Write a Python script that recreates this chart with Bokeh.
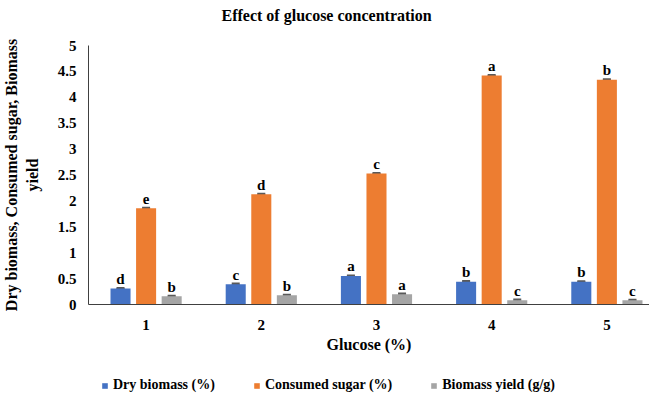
from bokeh.plotting import figure
from bokeh.layouts import column
from bokeh.models import (ColumnDataSource, Whisker, TeeHead, Legend, LegendItem,
                          FixedTicker, Range1d, Title)
from bokeh.transform import dodge
from bokeh.core.properties import value
from bokeh.embed import file_html
from bokeh.resources import INLINE

# ---- data ----
glucose = [1, 2, 3, 4, 5]
dry_biomass = [0.31, 0.39, 0.55, 0.44, 0.44]
dry_biomass_err = [0.01, 0.015, 0.01, 0.015, 0.01]
consumed_sugar = [1.86, 2.13, 2.53, 4.42, 4.34]
consumed_sugar_err = [0.01, 0.01, 0.01, 0.01, 0.01]
biomass_yield = [0.16, 0.18, 0.20, 0.08, 0.08]
biomass_yield_err = [0.01, 0.01, 0.01, 0.015, 0.01]
dry_letters = ["d", "c", "a", "b", "b"]
sugar_letters = ["e", "d", "c", "a", "b"]
yield_letters = ["b", "b", "a", "c", "c"]
series_names = ["Dry biomass (%)", "Consumed sugar (%)", "Biomass yield (g/g)"]
y_ticks = [0, 0.5, 1, 1.5, 2, 2.5, 3, 3.5, 4, 4.5, 5]
y_tick_labels = ["0", "0.5", "1", "1.5", "2", "2.5", "3", "3.5", "4", "4.5", "5"]
x_tick_labels = ["1", "2", "3", "4", "5"]
chart_title = "Effect of glucose concentration"

colors = ["#4472C4", "#ED7D31", "#A5A5A5"]
offsets = [-0.222, 0.0, 0.222]
FONT = "Liberation Serif"

p = figure(width=649, height=362, x_range=Range1d(0.5, 5.37), y_range=Range1d(0, 5),
           output_backend="svg", toolbar_location=None, title=None,
           min_border_left=81, min_border_right=0, min_border_top=45, min_border_bottom=58)
p.xgrid.visible = False
p.ygrid.visible = False
p.outline_line_color = None
p.background_fill_color = "white"

series = [(dry_biomass, dry_biomass_err, dry_letters),
          (consumed_sugar, consumed_sugar_err, sugar_letters),
          (biomass_yield, biomass_yield_err, yield_letters)]

# legend-only strip below the chart (its own renderers are kept outside its view range)
pl = figure(width=649, height=38, x_range=Range1d(-2, -1), y_range=Range1d(0, 1),
            output_backend="svg", toolbar_location=None,
            x_axis_location=None, y_axis_location=None,
            min_border_left=0, min_border_right=0, min_border_top=0, min_border_bottom=0)
pl.grid.visible = False
pl.outline_line_color = None

items = []
for (vals, errs, letters), col, off, name in zip(series, colors, offsets, series_names):
    src = ColumnDataSource(dict(
        x=glucose, top=vals,
        upper=[v + e for v, e in zip(vals, errs)],
        lower=[v - e for v, e in zip(vals, errs)],
        letter=letters))
    p.vbar(x=dodge("x", off), top="top", width=0.174, bottom=0, source=src,
           fill_color=col, line_color=None)
    w = Whisker(source=src, base=dodge("x", off), upper="upper", lower="lower",
                line_color="#595959", line_width=1,
                upper_head=TeeHead(size=8, line_color="#595959", line_width=2),
                lower_head=TeeHead(size=8, line_color="#595959", line_width=2))
    p.add_layout(w)
    p.text(x=dodge("x", off), y="upper", text="letter", source=src,
           text_font=value(FONT), text_font_style="bold", text_font_size="15px",
           text_align="center", text_baseline="alphabetic", y_offset=-9,
           text_color="black")
    rl = pl.vbar(x=dodge("x", off), top="top", width=0.174, bottom=0, source=src,
                 fill_color=col, line_color=None)
    items.append(LegendItem(label=name, renderers=[rl]))

# axes
p.xaxis.ticker = FixedTicker(ticks=glucose)
p.xaxis.major_label_overrides = {g: l for g, l in zip(glucose, x_tick_labels)}
p.yaxis.ticker = FixedTicker(ticks=y_ticks)
p.yaxis.major_label_overrides = {t: l for t, l in zip(y_ticks, y_tick_labels)}
for ax in (p.xaxis[0], p.yaxis[0]):
    ax.major_tick_line_color = None
    ax.minor_tick_line_color = None
    ax.major_tick_out = 0
    ax.major_tick_in = 0
    ax.axis_line_color = "#404040"
    ax.major_label_text_font = FONT
    ax.major_label_text_font_style = "bold"
    ax.major_label_text_font_size = "15px"
    ax.major_label_text_color = "black"
    ax.axis_label_text_font = FONT
    ax.axis_label_text_font_style = "bold"
    ax.axis_label_text_font_size = "16px"
    ax.axis_label_text_color = "black"
p.xaxis.major_label_standoff = 15
p.xaxis.axis_label = "Glucose (%)"
p.xaxis.axis_label_standoff = 3
p.yaxis.major_label_standoff = 12
p.yaxis.axis_label = "Dry biomass, Consumed sugar, Biomass\nyield"
p.yaxis.axis_label_standoff = 14

# title: a blank spacer next to the frame, then the real title above it
p.add_layout(Title(text=" ", text_font_size="2px", standoff=18), "above")
p.add_layout(Title(text=chart_title, align="left", offset=133, text_font=FONT,
                   text_font_style="bold", text_font_size="16px", text_color="black",
                   standoff=0), "above")

legend = Legend(items=items, orientation="horizontal", location=(13, 7),
                glyph_width=7, glyph_height=7, label_standoff=5, spacing=38,
                padding=0, margin=0, border_line_color=None, background_fill_alpha=0,
                label_text_font=FONT, label_text_font_style="bold",
                label_text_font_size="14px", label_text_color="black")
pl.add_layout(legend)

layout = column(p, pl, spacing=0)
open("out.html", "w").write(file_html(layout, INLINE))
